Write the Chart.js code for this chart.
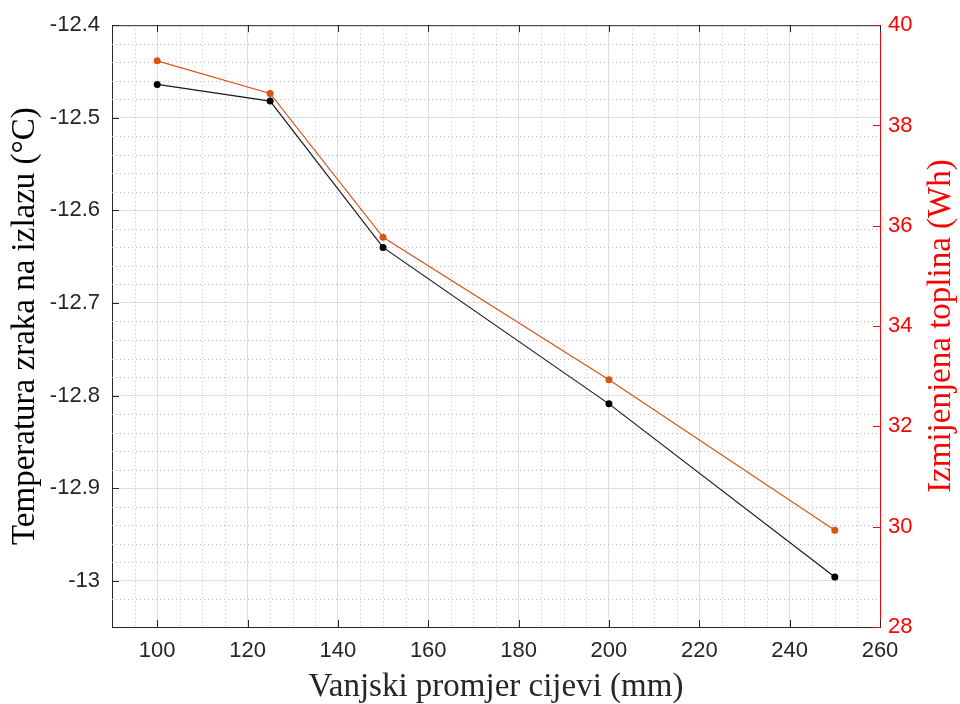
<!DOCTYPE html>
<html>
<head>
<meta charset="utf-8">
<script src="https://cdn.jsdelivr.net/npm/chart.js@4"></script>
<style>
  body { margin: 0; background: #fff; }
  #wrap { width: 960px; height: 704px; }
</style>
</head>
<body>
<div id="wrap"><canvas id="myChart" width="960" height="704"></canvas></div>
<script>
// data
const diameters = [100, 125, 150, 200, 250];
const airTemp = [-12.464, -12.482, -12.640, -12.809, -12.996];
const heatWh = [39.29, 38.64, 35.77, 32.93, 29.93];

const xTicks = [100, 120, 140, 160, 180, 200, 220, 240, 260];
const yTicks = [-13, -12.9, -12.8, -12.7, -12.6, -12.5, -12.4];
const y2Ticks = [28, 30, 32, 34, 36, 38, 40];

const axisColor = '#262626';
const red = '#ff0000';
const orange = '#d95319';
const tickFont = { family: '"Liberation Sans", Arial, sans-serif', size: 22 };
const titleFont = { family: '"Liberation Serif", "Times New Roman", serif', size: 33, lineHeight: 1 };

// minor dotted grid, top border and inward tick marks (MATLAB look)
const matlabAxes = {
  id: 'matlabAxes',
  beforeDatasetsDraw(chart) {
    const { ctx, chartArea: a, scales } = chart;
    const x = scales.x, y = scales.y;
    ctx.save();
    ctx.strokeStyle = '#bdbdbd';
    ctx.lineWidth = 1;
    ctx.setLineDash([1, 3]);
    for (let v = 95; v < 260; v += 5) {
      if (v % 20 === 0) continue;
      const px = Math.round(x.getPixelForValue(v)) + 0.5;
      ctx.beginPath(); ctx.moveTo(px, a.top); ctx.lineTo(px, a.bottom); ctx.stroke();
    }
    for (let i = 1; i < 33; i++) {
      const v = -13.04 + i * 0.02;
      if (Math.abs(v * 10 - Math.round(v * 10)) < 1e-6) continue;
      const py = Math.round(y.getPixelForValue(v)) + 0.5;
      ctx.beginPath(); ctx.moveTo(a.left, py); ctx.lineTo(a.right, py); ctx.stroke();
    }
    ctx.restore();
  },
  afterDraw(chart) {
    const { ctx, chartArea: a, scales } = chart;
    const len = 7;
    ctx.save();
    ctx.lineWidth = 1;
    ctx.strokeStyle = axisColor;
    // top border
    ctx.beginPath(); ctx.moveTo(a.left, a.top + 0.5); ctx.lineTo(a.right, a.top + 0.5); ctx.stroke();
    xTicks.forEach(v => {
      const px = Math.round(scales.x.getPixelForValue(v)) + 0.5;
      ctx.beginPath();
      ctx.moveTo(px, a.bottom); ctx.lineTo(px, a.bottom - len);
      ctx.moveTo(px, a.top); ctx.lineTo(px, a.top + len);
      ctx.stroke();
    });
    yTicks.forEach(v => {
      const py = Math.round(scales.y.getPixelForValue(v)) + 0.5;
      ctx.beginPath(); ctx.moveTo(a.left, py); ctx.lineTo(a.left + len, py); ctx.stroke();
    });
    ctx.strokeStyle = red;
    y2Ticks.forEach(v => {
      const py = Math.round(scales.y2.getPixelForValue(v)) + 0.5;
      ctx.beginPath(); ctx.moveTo(a.right, py); ctx.lineTo(a.right - len, py); ctx.stroke();
    });
    // right axis title, reading bottom to top like MATLAB
    ctx.fillStyle = red;
    ctx.font = titleFont.size + 'px ' + titleFont.family;
    ctx.textAlign = 'center';
    ctx.textBaseline = 'middle';
    ctx.translate(scales.y2.right - 19, (a.top + a.bottom) / 2);
    ctx.rotate(-Math.PI / 2);
    ctx.fillText('Izmijenjena toplina (Wh)', 0, 0);
    ctx.restore();
  }
};

const ctx = document.getElementById('myChart').getContext('2d');
new Chart(ctx, {
  type: 'line',
  data: {
    datasets: [
      {
        label: 'Temperatura',
        data: diameters.map((d, i) => ({ x: d, y: airTemp[i] })),
        yAxisID: 'y',
        borderColor: '#1a1a1a',
        backgroundColor: '#000000',
        borderWidth: 1.2,
        pointRadius: 3.5,
        pointBorderWidth: 0,
        tension: 0
      },
      {
        label: 'Toplina',
        data: diameters.map((d, i) => ({ x: d, y: heatWh[i] })),
        yAxisID: 'y2',
        borderColor: orange,
        backgroundColor: orange,
        borderWidth: 1.2,
        pointRadius: 3.5,
        pointBorderWidth: 0,
        tension: 0
      }
    ]
  },
  options: {
    responsive: false,
    animation: false,
    layout: { padding: { top: 22, left: 0, right: 0, bottom: 0 } },
    plugins: { legend: { display: false }, tooltip: { enabled: false } },
    scales: {
      x: {
        type: 'linear',
        min: 90,
        max: 260,
        afterBuildTicks: s => { s.ticks = xTicks.map(v => ({ value: v })); },
        afterFit: s => { s.height = 77; },
        grid: { color: '#dedede', drawTicks: false },
        border: { color: axisColor, width: 1 },
        ticks: { color: axisColor, font: tickFont, padding: 11, maxRotation: 0 },
        title: { display: true, text: 'Vanjski promjer cijevi (mm)', color: axisColor, font: titleFont, padding: { top: 0, bottom: 0 } }
      },
      y: {
        position: 'left',
        min: -13.05,
        max: -12.4,
        afterBuildTicks: s => { s.ticks = yTicks.map(v => ({ value: v })); },
        afterFit: s => { s.width = 112; },
        grid: { color: '#dedede', drawTicks: false },
        border: { color: axisColor, width: 1 },
        ticks: { color: axisColor, font: tickFont, padding: 12, callback: v => String(Number(v.toFixed(2))) },
        title: { display: true, text: 'Temperatura zraka na izlazu (°C)', color: '#000', font: titleFont, padding: { top: 9, bottom: 0 } }
      },
      y2: {
        position: 'right',
        min: 28,
        max: 40,
        afterBuildTicks: s => { s.ticks = y2Ticks.map(v => ({ value: v })); },
        afterFit: s => { s.width = 80; },
        grid: { display: false, drawTicks: false },
        border: { color: red, width: 1 },
        ticks: { color: red, font: tickFont, padding: 8 }
      }
    }
  },
  plugins: [matlabAxes]
});
</script>
</body>
</html>
